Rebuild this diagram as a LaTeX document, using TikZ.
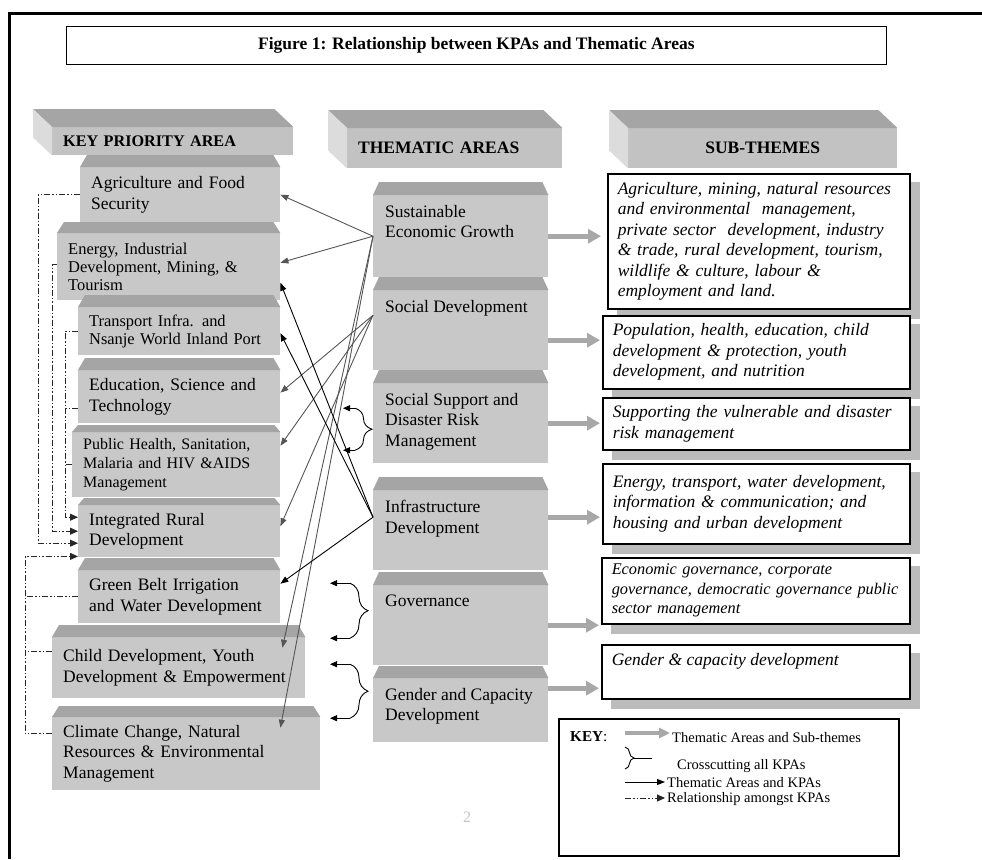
\documentclass[tikz,border=0pt]{standalone}
\usepackage{fontspec}
\setmainfont{Liberation Serif}
\usetikzlibrary{arrows.meta,calc,decorations.pathreplacing}
\pgfdeclarelayer{background}
\pgfsetlayers{background,main}
\definecolor{boxgray}{HTML}{C8C8C8}
\definecolor{topgray}{HTML}{A5A5A5}
\definecolor{sidegray}{HTML}{DCDCDC}
\definecolor{hdgray}{HTML}{C2C2C2}
\definecolor{shadegray}{HTML}{BCBCBC}
\definecolor{linkgray}{HTML}{555555}
\definecolor{fatgray}{HTML}{A8A8A8}
\newcommand{\bodyfont}{\fontsize{17.5}{20.5}\selectfont}
\newcommand{\keyfont}{\fontsize{14.5}{16}\selectfont}
\newcommand{\toptxt}[3]{\parbox[c][#1][t]{#2}{#3}}
\newcommand{\topface}[3]{\fill[topgray] (#1.north west) -- ++(#3,-#2) -- ($(#1.north east)+(-#3,-#2)$) -- (#1.north east) -- cycle;}
\newcommand{\hdface}[1]{%
  \fill[topgray] (#1.north west) -- ++(-19,-18) -- ($(#1.north east)+(-19,-18)$) -- (#1.north east) -- cycle;
  \fill[sidegray] (#1.north west) -- ++(-19,-18) -- ($(#1.south west)+(-19,-18)$) -- (#1.south west) -- cycle;}
\tikzstyle{hdr}=[anchor=north west, fill=hdgray, inner xsep=11pt, inner ysep=0pt,
    align=left, font=\bfseries\fontsize{17.5}{20}\selectfont]
\tikzstyle{kpa}=[anchor=north west, fill=boxgray, inner xsep=11pt, inner ysep=0pt,
    align=left, font=\bodyfont]
\tikzstyle{thm}=[anchor=north west, fill=boxgray, inner xsep=12pt, inner ysep=10pt, font=\bodyfont]
\tikzstyle{sub}=[anchor=north west, draw, line width=1.5pt, fill=white, inner xsep=10pt,
    inner ysep=0pt, align=left, font=\bodyfont\itshape]
\tikzstyle{fat}=[line width=5pt, draw=fatgray, -{Triangle[length=13pt,width=14pt]}]
\tikzstyle{link}=[line width=0.9pt, draw=linkgray, -{Triangle[length=8pt,width=6pt]}]
\tikzstyle{infl}=[link, draw=black]
\tikzstyle{rel}=[line width=0.9pt, draw=black!85,
    dash pattern=on 6pt off 2pt on 1.5pt off 2pt on 1.5pt off 2pt, -{Triangle[length=8pt,width=7pt]}]
\tikzstyle{xcut}=[line width=0.9pt, decorate, decoration={brace, amplitude=17pt}]
\tikzstyle{xarr}=[line width=0.9pt, -{Triangle[length=7pt,width=6pt]}]

\begin{document}
\begin{tikzpicture}[x=1pt,y=-1pt]
  \useasboundingbox (0,0) rectangle (982,859);
  \draw[line width=3pt] (9.5,859) -- (9.5,14) -- (982,14);

  \node[draw, line width=0.8pt, anchor=north west, minimum width=820pt, minimum height=38pt,
    font=\bfseries\fontsize{17.5}{20}\selectfont] at (66,26) (title)
    {Figure 1: Relationship between KPAs and Thematic Areas};

  % column heads
  \node[hdr] at (52,127) (hkpa)[text width=219pt, minimum height=28pt,
    font=\bfseries\fontsize{16.2}{18}\selectfont] {KEY PRIORITY AREA};
  \hdface{hkpa}
  \node[hdr] at (347,128) (hthm)[text width=193pt, minimum height=40pt] {THEMATIC AREAS};
  \hdface{hthm}
  \node[hdr] at (628,128) (hsub)[text width=247pt, minimum height=40pt, align=center] {SUB-THEMES};
  \hdface{hsub}

  % key priority areas
  \node[kpa] at (80,167) (agri)[text width=178pt, minimum height=55pt] {Agriculture and Food\\Security};
  \topface{agri}{12}{7}
  \node[kpa] at (57,233) (nrg)[text width=201pt, minimum height=67pt,
    font=\fontsize{16.5}{18}\selectfont] {Energy, Industrial\\Development, Mining, \&\\Tourism};
  \topface{nrg}{11}{7}
  \node[kpa] at (78,307) (trans)[text width=180pt, minimum height=48pt,
    font=\fontsize{16.4}{18}\selectfont] {Transport Infra. and\\Nsanje World Inland Port};
  \topface{trans}{12}{7}
  \node[kpa] at (78,370) (edu)[text width=180pt, minimum height=53pt] {Education, Science and\\Technology};
  \topface{edu}{12}{7}
  \node[kpa] at (72,432) (ph)[text width=186pt, minimum height=65pt,
    font=\fontsize{16}{19}\selectfont] {Public Health, Sanitation,\\Malaria and HIV \&AIDS\\Management};
  \topface{ph}{7}{6}
  \node[kpa] at (78,505) (rural)[text width=180pt, minimum height=52pt] {Integrated Rural\\Development};
  \topface{rural}{7}{6}
  \node[kpa] at (78,570) (gb)[text width=180pt, minimum height=53pt] {Green Belt Irrigation\\and Water Development};
  \topface{gb}{12}{7}
  \node[kpa] at (52,637) (child)[text width=231pt, minimum height=61pt] {Child Development, Youth\\Development \& Empowerment};
  \topface{child}{12}{7}
  \node[kpa] at (52,717) (clim)[text width=246pt, minimum height=73pt] {Climate Change, Natural\\Resources \& Environmental\\Management};
  \topface{clim}{11}{7}

  % thematic areas
  \node[thm] at (373,195) (sus) {\toptxt{62pt}{151pt}{Sustainable\\Economic Growth}};
  \topface{sus}{13}{6}
  \node[thm] at (373,290) (socdev) {\toptxt{60pt}{151pt}{Social Development}};
  \topface{socdev}{13}{6}
  \node[thm] at (373,383) (ssup) {\toptxt{60pt}{151pt}{Social Support and\\Disaster Risk\\Management}};
  \topface{ssup}{13}{6}
  \node[thm] at (373,490) (infra) {\toptxt{60pt}{151pt}{Infrastructure\\Development}};
  \topface{infra}{13}{6}
  \node[thm] at (373,585) (gov) {\toptxt{60pt}{151pt}{Governance}};
  \topface{gov}{13}{6}
  \node[thm] at (373,678) (gend) {\toptxt{44pt}{151pt}{Gender and Capacity\\Development}};
  \topface{gend}{12}{6}

  % sub-themes
  \node[sub] at (607,173) (st1)[text width=282pt, minimum height=135pt]
    {Agriculture, mining, natural resources\\and environmental\ \ management,\\private sector\ \ development, industry\\\& trade, rural development, tourism,\\wildlife \& culture, labour \&\\employment and land.};
  \node[sub] at (602,315) (st2)[text width=287pt, minimum height=73pt]
    {Population, health, education, child\\development \& protection, youth\\development, and nutrition};
  \node[sub] at (602,397) (st3)[text width=287pt, minimum height=52pt]
    {Supporting the vulnerable and disaster\\risk management};
  \node[sub] at (602,463) (st4)[text width=287pt, minimum height=80pt]
    {Energy, transport, water development,\\information \& communication; and\\housing and urban development};
  \node[sub] at (601,557) (st5)[text width=288pt, minimum height=66pt,
    font=\fontsize{16.3}{19.5}\selectfont\itshape]
    {Economic governance, corporate\\governance, democratic governance public\\sector management};
  \node[sub] at (601,644) (st6)[inner ysep=9pt] {\toptxt{36pt}{288pt}{Gender \& capacity development}};

  \begin{pgfonlayer}{background}
    \foreach \s in {st1,st2,st3,st4,st5,st6}
      \fill[shadegray] ($(\s.north west)+(10,9)$) rectangle ($(\s.south east)+(9,9)$);
  \end{pgfonlayer}

  % thematic areas to sub-themes
  \draw[fat, shorten >=6pt] (sus.east) -- (sus.east -| st1.west);
  \draw[fat, shorten >=2pt] ([yshift=-10pt]socdev.east) coordinate (o2) -- (o2 -| st2.west);
  \draw[fat, shorten >=2pt] (ssup.east) -- (ssup.east -| st3.west);
  \draw[fat, shorten >=2pt] ([yshift=13pt]infra.east) coordinate (o4) -- (o4 -| st4.west);
  \draw[fat, shorten >=2pt] (gov.east) -- (gov.east -| st5.west);
  \draw[fat, shorten >=2pt] ([yshift=22pt]gend.east) coordinate (o6) -- (o6 -| st6.west);

  % thematic areas to KPAs
  \draw[link] (sus.west) -- (agri.east);
  \draw[link] (sus.west) -- ([yshift=4pt]nrg.east);
  \draw[link] (sus.west) -- ([xshift=-23pt,yshift=20pt]child.east);
  \draw[link] (sus.west) -- ([xshift=-40pt,yshift=26pt]clim.east);
  \draw[link] ([yshift=15pt]socdev.west) -- ([yshift=4pt]edu.east);
  \draw[link] ([yshift=15pt]socdev.west) -- ([yshift=19pt]ph.east);
  \draw[link] ([yshift=15pt]socdev.west) -- ([yshift=5pt]rural.east);
  \draw[infl] ([yshift=13pt]infra.west) -- ([yshift=-16pt]nrg.east);
  \draw[infl] ([yshift=13pt]infra.west) -- ([yshift=-2pt]trans.east);
  \draw[infl] ([yshift=13pt]infra.west) -- ([yshift=13pt]gb.east);

  % crosscutting
  \coordinate (ssa) at ([xshift=-18pt,yshift=15pt]ssup.west);
  \coordinate (ssb) at ([xshift=-18pt,yshift=-27pt]ssup.west);
  \draw[xcut] (ssa) -- (ssb);
  \draw[xarr] (ssa) -- ++(-12,0);
  \draw[xarr] (ssb) -- ++(-12,0);
  \coordinate (gova) at ([xshift=-23pt,yshift=42pt]gov.west);
  \coordinate (govb) at ([xshift=-23pt,yshift=-13pt]gov.west);
  \draw[xcut, decoration={amplitude=18pt}] (gova) -- (govb);
  \draw[xarr] (gova) -- ++(-20,0);
  \draw[xarr] (govb) -- ++(-20,0);
  \coordinate (genda) at ([xshift=-23pt,yshift=46pt]gend.west);
  \coordinate (gendb) at ([xshift=-23pt,yshift=-8pt]gend.west);
  \draw[xcut, decoration={amplitude=18pt}] (genda) -- (gendb);
  \draw[xarr] (genda) -- ++(-20,0);
  \draw[xarr] (gendb) -- ++(-20,0);

  % relationship amongst KPAs
  \draw[rel] (agri.west) -- ++(-42,0) |- ([yshift=-12pt]rural.west);
  \draw[rel] ([yshift=2pt]nrg.west) -- ++(-5,0) |- (rural.west);
  \draw[rel] (trans.west) -- ++(-13,0) |- ([yshift=14pt]rural.west);
  \draw[rel,-] ([yshift=-12pt]edu.west) -- ++(-13,0);
  \draw[rel,-] (ph.west) -- ++(-7,0);
  \draw[rel] ([yshift=20pt]clim.west) -- ++(-27,0) |- ([yshift=1pt]rural.south west);
  \draw[rel,-] (gb.west) -- ++(-53,0);
  \draw[rel,-] ([yshift=16pt]child.west) -- ++(-27,0);

  \node[font=\fontsize{16}{18}\selectfont, text=gray!45] at (467,817) (pg) {2};

  % key
  \node[draw, line width=1.5pt, anchor=north west, minimum width=340pt, minimum height=137pt] at (558,718) (key) {};
  \node[anchor=west, inner sep=1pt, font=\fontsize{15.2}{17}\selectfont] at (569,737) (keyt) {\textbf{KEY}:};
  \node[anchor=west, inner sep=2pt, font=\keyfont] at (670,738) (k1) {Thematic Areas and Sub-themes};
  \node[anchor=west, inner sep=2pt, font=\keyfont] at (675,766) (k2) {Crosscutting all KPAs};
  \node[anchor=west, inner sep=2pt, font=\keyfont] at (665,783) (k3) {Thematic Areas and KPAs};
  \node[anchor=west, inner sep=2pt, font=\keyfont] at (665,799) (k4) {Relationship amongst KPAs};
  \coordinate (k1a) at (625,733);
  \draw[fat, line width=4pt, -{Triangle[length=11pt,width=10pt]}] (k1a) -- (k1a -| k1.west);
  \coordinate (k2a) at (625,747);
  \coordinate (k2b) at (625,769);
  \draw[xcut, decoration={amplitude=9pt}] (k2a) -- (k2b);
  \draw[line width=0.9pt] ($(k2a)!0.5!(k2b)+(9,0)$) -- ++(18,0);
  \coordinate (k3a) at (625,782);
  \draw[infl] (k3a) -- (k3a -| k3.west);
  \coordinate (k4a) at (625,798);
  \draw[rel] (k4a) -- (k4a -| k4.west);
\end{tikzpicture}
\end{document}
